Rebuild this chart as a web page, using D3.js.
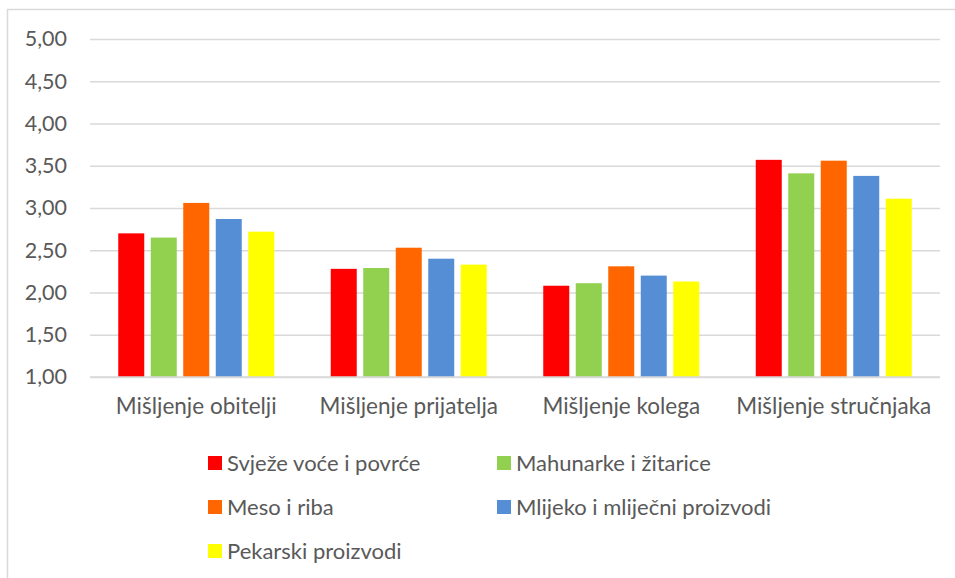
<!DOCTYPE html>
<html>
<head>
<meta charset="utf-8">
<script src="https://cdn.jsdelivr.net/npm/d3@7"></script>
<style>
  html, body { margin: 0; padding: 0; background: #fff; }
  svg { display: block; font-family: Lato, "Open Sans", sans-serif; }
</style>
</head>
<body>
<svg id="chart" width="955" height="578"></svg>
<script>
const categories = ["Mišljenje obitelji", "Mišljenje prijatelja", "Mišljenje kolega", "Mišljenje stručnjaka"];
const seriesNames = ["Svježe voće i povrće", "Mahunarke i žitarice", "Meso i riba", "Mlijeko i mliječni proizvodi", "Pekarski proizvodi"];
const seriesColors = ["#FF0000", "#92D050", "#FF6600", "#558ED5", "#FFFF00"];
const svjezeVoce = [2.70, 2.28, 2.08, 3.57];
const mahunarke = [2.65, 2.29, 2.11, 3.41];
const mesoRiba = [3.06, 2.53, 2.31, 3.56];
const mlijeko = [2.87, 2.40, 2.20, 3.38];
const pekarski = [2.72, 2.33, 2.13, 3.11];
const tickValues = [1.0, 1.5, 2.0, 2.5, 3.0, 3.5, 4.0, 4.5, 5.0];

const seriesValues = [svjezeVoce, mahunarke, mesoRiba, mlijeko, pekarski];

const svg = d3.select("#chart");

// outer border (right/bottom run off the canvas)
svg.append("rect")
  .attr("x", 7.5).attr("y", 9.5)
  .attr("width", 960).attr("height", 600)
  .attr("fill", "none").attr("stroke", "#d9d9d9").attr("stroke-width", 1.5);

const plotLeft = 90, plotRight = 940, plotTop = 39, plotBottom = 377;

const y = d3.scaleLinear().domain([1, 5]).range([plotBottom, plotTop]);
const x0 = d3.scaleBand().domain(categories).range([plotLeft, plotRight]).padding(0);
const bw = x0.bandwidth();
const x1 = d3.scaleBand().domain(seriesNames).range([bw / 2 - 78, bw / 2 + 78]).paddingInner(0.2).paddingOuter(0);

// gridlines
const yAxis = d3.axisLeft(y).tickValues(tickValues).tickSize(-(plotRight - plotLeft)).tickPadding(23)
  .tickFormat(d => d3.format(".2f")(d).replace(".", ","));
const gy = svg.append("g").attr("transform", `translate(${plotLeft},0)`).call(yAxis);
gy.select(".domain").remove();
gy.selectAll(".tick line").attr("stroke", "#d9d9d9").attr("stroke-width", 1.5);
gy.selectAll(".tick text").attr("fill", "#595959").style("font-size", "21.5px").style("font-family", "Lato, 'Open Sans', sans-serif");

// bars
const groups = svg.append("g").selectAll("g")
  .data(categories)
  .join("g")
  .attr("transform", d => `translate(${x0(d)},0)`);

groups.selectAll("rect")
  .data((c, ci) => seriesNames.map((s, si) => ({ s, si, v: seriesValues[si][ci] })))
  .join("rect")
  .attr("x", d => x1(d.s))
  .attr("width", x1.bandwidth())
  .attr("y", d => y(d.v))
  .attr("height", d => y(1) - y(d.v))
  .attr("fill", d => seriesColors[d.si]);

// baseline axis
svg.append("line")
  .attr("x1", plotLeft).attr("x2", plotRight)
  .attr("y1", y(1)).attr("y2", y(1))
  .attr("stroke", "#d9d9d9").attr("stroke-width", 1.5);

// category labels
const xAxis = d3.axisBottom(x0).tickSize(0).tickPadding(21);
const gx = svg.append("g").attr("transform", `translate(0,${plotBottom})`).call(xAxis);
gx.select(".domain").remove();
gx.selectAll(".tick text").attr("fill", "#595959").style("font-size", "22.5px").style("font-family", "Lato, 'Open Sans', sans-serif");

// legend
const legendPos = [
  { x: 208, y: 456 }, { x: 497, y: 456 },
  { x: 208, y: 500 }, { x: 497, y: 500 },
  { x: 208, y: 544 }
];
const lg = svg.append("g").selectAll("g")
  .data(seriesNames)
  .join("g")
  .attr("transform", (d, i) => `translate(${legendPos[i].x},${legendPos[i].y})`);
lg.append("rect").attr("width", 14).attr("height", 14).attr("fill", (d, i) => seriesColors[i]);
lg.append("text").attr("x", 19).attr("y", 7).attr("dy", "0.35em")
  .attr("fill", "#595959").style("font-size", "22px").text(d => d);
</script>
</body>
</html>
